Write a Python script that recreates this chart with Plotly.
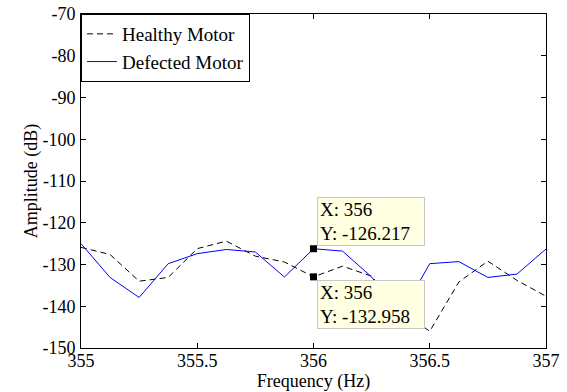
import plotly.graph_objects as go

# Spectrum samples around the 356 Hz component (0.125 Hz resolution)
freq = [355.0, 355.125, 355.25, 355.375, 355.5, 355.625, 355.75, 355.875,
        356.0, 356.125, 356.25, 356.375, 356.5, 356.625, 356.75, 356.875, 357.0]
healthy_db = [-125.9, -127.6, -134.0, -133.1, -126.2, -124.4, -128.0, -129.4,
              -132.958, -130.4, -132.8, -141.0, -146.0, -134.2, -129.2, -133.8, -137.6]
defected_db = [-125.0, -133.1, -137.9, -129.8, -127.4, -126.4, -127.0, -133.0,
               -126.217, -126.8, -133.0, -142.0, -129.8, -129.3, -133.1, -132.3, -126.3]

x_ticks = [355, 355.5, 356, 356.5, 357]
x_tick_text = ["355", "355.5", "356", "356.5", "357"]
y_ticks = [-70, -80, -90, -100, -110, -120, -130, -140, -150]
y_tick_text = ["-70", "-80", "-90", "-100", "-110", "-120", "-130", "-140", "-150"]

# Data tips: (frequency, series values)
tip_freq = 356.0
tip_defected = defected_db[freq.index(tip_freq)]
tip_healthy = healthy_db[freq.index(tip_freq)]

FONT = "Liberation Serif"
FS = 19
TICK_FS = 18

fig = go.Figure()
fig.add_trace(go.Scatter(
    x=freq, y=healthy_db, mode="lines", name="Healthy Motor",
    line=dict(color="black", width=1, dash="6px,4px")))
fig.add_trace(go.Scatter(
    x=freq, y=defected_db, mode="lines", name="Defected Motor",
    line=dict(color="#0000ff", width=1)))
fig.add_trace(go.Scatter(
    x=[tip_freq, tip_freq], y=[tip_defected, tip_healthy], mode="markers",
    showlegend=False, hoverinfo="skip",
    marker=dict(symbol="square", size=7, color="black")))

tip_style = dict(xref="x", yref="y", showarrow=False, align="left",
                 xanchor="left", bgcolor="#ffffe1", bordercolor="#c8c8c8",
                 borderwidth=1, borderpad=2, width=102, height=43,
                 font=dict(family=FONT, size=FS, color="black"))
fig.add_annotation(x=tip_freq, y=tip_defected,
                   text=f"X: {tip_freq:g}<br>Y: {tip_defected:.3f}",
                   yanchor="bottom", xshift=3, yshift=3, **tip_style)
fig.add_annotation(x=tip_freq, y=tip_healthy,
                   text=f"X: {tip_freq:g}<br>Y: {tip_healthy:.3f}",
                   yanchor="top", xshift=3, yshift=-3, **tip_style)

axis_common = dict(showgrid=False, zeroline=False, showline=True,
                   linecolor="black", linewidth=1, mirror="ticks",
                   ticks="inside", ticklen=5, tickcolor="black",
                   automargin=False,
                   tickfont=dict(family=FONT, size=TICK_FS, color="black"))

fig.update_xaxes(range=[355, 357], tickvals=x_ticks, ticktext=x_tick_text,
                 ticklabelstandoff=-4,
                 title=dict(text="Frequency (Hz)", standoff=0,
                            font=dict(family=FONT, size=TICK_FS, color="black")),
                 **axis_common)
fig.update_yaxes(range=[-150, -70], tickvals=y_ticks, ticktext=y_tick_text,
                 ticklabelstandoff=1,
                 title=dict(text="Amplitude (dB)", standoff=0,
                            font=dict(family=FONT, size=TICK_FS, color="black")),
                 **axis_common)

fig.update_layout(
    width=567, height=392,
    margin=dict(l=81, r=21, t=14, b=44),
    paper_bgcolor="white", plot_bgcolor="white",
    showlegend=True,
    legend=dict(x=0, y=1, xanchor="left", yanchor="top",
                bgcolor="white", bordercolor="black", borderwidth=1,
                font=dict(family=FONT, size=FS, color="black"),
                itemwidth=30, tracegroupgap=0),
)

fig.write_html("out.html")
